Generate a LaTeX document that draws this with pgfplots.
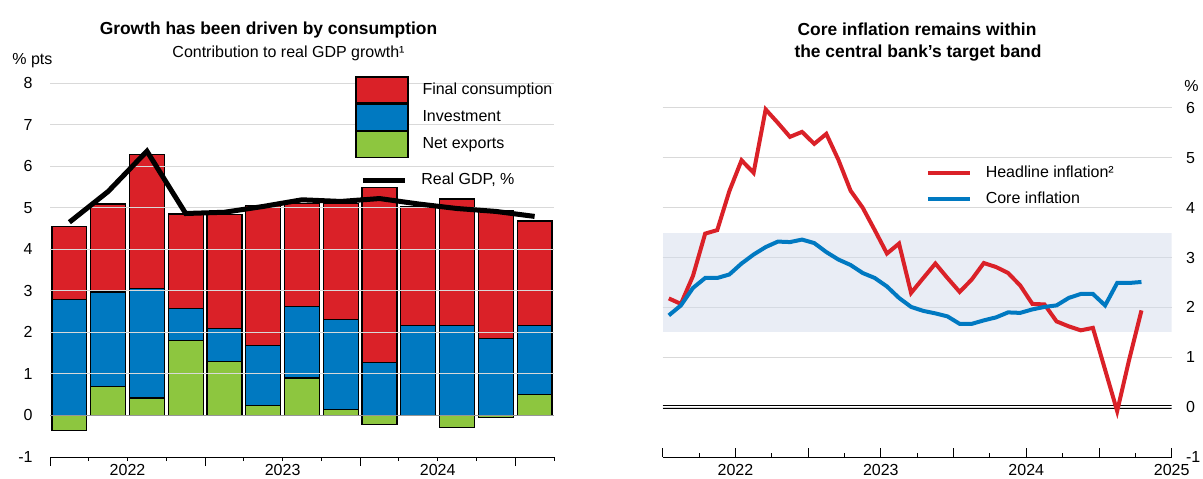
\documentclass[border=0pt]{standalone}
\usepackage{fontspec}
\setmainfont{Liberation Sans}
\usepackage{pgfplots}
\usepackage{pgfplotstable}
\pgfplotsset{compat=1.18}

\definecolor{cRed}{RGB}{218,33,40}
\definecolor{cBlue}{RGB}{0,121,193}
\definecolor{cGreen}{RGB}{141,198,63}
\definecolor{cBand}{RGB}{211,219,235}
\definecolor{cGrid}{RGB}{217,217,217}
\definecolor{cZero}{RGB}{150,150,150}

% contributions drawn as overlapping bars: red = total, blue = top of investment, green = net exports
\pgfplotstableread{
q  red   blue  green gdp
1  4.55  2.80  -0.36 4.65
2  5.09  2.97  0.70  5.39
3  6.28  3.05  0.42  6.36
4  4.85  2.58  1.81  4.86
5  4.83  2.09  1.30  4.89
6  5.06  1.69  0.24  5.03
7  5.10  2.62  0.90  5.19
8  5.11  2.31  0.14  5.15
9  5.48  1.28  -0.21 5.22
10 5.02  2.17  0.00  5.09
11 5.21  2.17  -0.29 4.98
12 4.93  1.85  -0.05 4.91
13 4.68  2.17  0.50  4.79
}\gdpdata

\pgfplotstableread{
t        head  core
2021.542 2.18  1.84
2021.625 2.07  2.04
2021.708 2.63  2.39
2021.792 3.48  2.59
2021.875 3.55  2.59
2021.958 4.33  2.66
2022.042 4.95  2.88
2022.125 4.70  3.06
2022.208 5.97  3.21
2022.292 5.70  3.32
2022.375 5.42  3.31
2022.458 5.52  3.36
2022.542 5.28  3.29
2022.625 5.48  3.11
2022.708 4.96  2.96
2022.792 4.34  2.85
2022.875 4.00  2.69
2022.958 3.55  2.59
2023.042 3.08  2.42
2023.125 3.28  2.19
2023.208 2.29  2.01
2023.292 2.59  1.93
2023.375 2.88  1.88
2023.458 2.59  1.82
2023.542 2.31  1.67
2023.625 2.56  1.67
2023.708 2.89  1.74
2023.792 2.81  1.80
2023.875 2.69  1.90
2023.958 2.44  1.89
2024.042 2.07  1.96
2024.125 2.06  2.01
2024.208 1.72  2.04
2024.292 1.62  2.19
2024.375 1.54  2.27
2024.458 1.59  2.27
2024.542 0.75  2.04
2024.625 -0.08 2.49
2024.708 0.96  2.49
2024.792 1.94  2.51
}\inflation

\pgfplotsset{
  panel/.style={
    scale only axis, height=187pt, ymin=-1,
    axis x line*=bottom, x axis line style={black, line width=0.5pt},
    y axis line style={draw=none}, ytick style={draw=none},
    tick align=inside, major tick length=4.5pt, minor tick length=2pt,
    xtick style={black, line width=0.5pt},
    minor tick style={black, line width=0.5pt},
    ymajorgrids, major grid style={draw=cGrid, line width=0.5pt},
    tick label style={font=\fontsize{8}{9.6}\selectfont, inner sep=0pt},
    /pgf/number format/assume math mode=true,
    xticklabel style={yshift=-3.5pt},
    legend style={draw=none, fill=none, font=\fontsize{8}{9.6}\selectfont,
      inner sep=0pt, row sep=0pt, nodes={inner sep=0pt}, cells={anchor=west}},
  },
  barleg/.style={legend image code/.code={\draw[##1, draw=black, line width=0.6pt] (0pt,-6.5pt) rectangle (26pt,6.5pt);}},
  lineleg/.style={legend image code/.code={\draw[##1] (0pt,0pt) -- (21pt,0pt); \path[draw=none, fill=none] (0pt,-6.5pt) rectangle (21pt,6.5pt);}},
}

\begin{document}
\begin{tikzpicture}[font=\fontsize{8}{9.6}\selectfont]
\useasboundingbox (0,0) rectangle (601.5pt,239pt);

% left panel
\begin{axis}[panel, at={(25pt,10.5pt)}, anchor=south west, width=252pt,
  xmin=0.5, xmax=13.5, ymax=8, ytick={-1,0,...,8},
  yticklabel style={xshift=-8.5pt},
  xtick={0.5,4.5,8.5,12.5}, xticklabels={},
  minor xtick={1.5,2.5,3.5,5.5,6.5,7.5,9.5,10.5,11.5,13.5},
  extra x ticks={2.5,6.5,10.5}, extra x tick labels={2022,2023,2024},
  extra x tick style={major tick length=0pt},
  extra y ticks={0}, extra y tick labels={},
  extra y tick style={grid=major, major grid style={draw=cZero, line width=0.9pt}},
  axis on top, ybar, bar width=0.9,
  legend style={at={(0.605,1.0187)}, anchor=north west, column sep=7pt}]
\addplot[bar shift=0pt, fill=cRed, draw=black, line width=0.6pt, barleg] table[x=q, y=red] {\gdpdata};
\addlegendentry{Final consumption}
\addplot[bar shift=0pt, fill=cBlue, draw=black, line width=0.6pt, barleg] table[x=q, y=blue] {\gdpdata};
\addlegendentry{Investment}
\addplot[bar shift=0pt, fill=cGreen, draw=black, line width=0.6pt, barleg] table[x=q, y=green] {\gdpdata};
\addlegendentry{Net exports}
\end{axis}

% GDP line on top, with its own legend entry
\begin{axis}[panel, hide axis, at={(25pt,10.5pt)}, anchor=south west, width=252pt,
  xmin=0.5, xmax=13.5, ymax=8,
  legend style={at={(0.615,0.739)}, anchor=west, column sep=7pt}]
\addplot[black, line width=2.5pt, lineleg] table[x=q, y=gdp] {\gdpdata};
\addlegendentry{Real GDP, \%}
\end{axis}

% right panel
\begin{axis}[panel, at={(331.35pt,10.5pt)}, anchor=south west, width=254.5pt,
  axis y line*=right,
  xmin=2021.5, xmax=2025, ymax=6.5, ytick={-1,0,...,6},
  yticklabel style={xshift=7pt},
  xtick={2021.5,2022,2022.5,2023,2023.5,2024,2024.5,2025},
  xticklabels={,2022,,2023,,2024,,2025},
  minor xtick={2021.75,2022.25,2022.75,2023.25,2023.75,2024.25,2024.75},
  legend style={at={(0.516,0.795)}, anchor=north west, column sep=7pt}]
\addplot[fill=cBand, fill opacity=0.5, draw=none, forget plot]
  coordinates {(2021.5,1.5) (2025,1.5) (2025,3.5) (2021.5,3.5)} -- cycle;
% zero line drawn as a double rule
\addplot[black, line width=0.5pt, forget plot] coordinates {(2021.5,0.024) (2025,0.024)};
\addplot[black, line width=0.5pt, forget plot] coordinates {(2021.5,-0.024) (2025,-0.024)};
\addplot[cRed, line width=2pt, lineleg] table[x=t, y=head] {\inflation};
\addlegendentry{Headline inflation²}
\addplot[cBlue, line width=2pt, lineleg] table[x=t, y=core] {\inflation};
\addlegendentry{Core inflation}
\end{axis}

% titles and units
\node[font=\fontsize{8.7}{10}\selectfont\bfseries] at (134.25pt,224pt) {Growth has been driven by consumption};
\node at (144.25pt,212.5pt) {Contribution to real GDP growth¹};
\node[font=\fontsize{8.7}{10}\selectfont\bfseries] at (458.5pt,224.5pt) {Core inflation remains within};
\node[font=\fontsize{8.7}{10}\selectfont\bfseries] at (459pt,212.5pt) {the central bank’s target band};
\node[anchor=west, inner sep=0pt] at (6pt,208.5pt) {\% pts};
\node[anchor=west, inner sep=0pt] at (592pt,196pt) {\%};
\end{tikzpicture}
\end{document}
